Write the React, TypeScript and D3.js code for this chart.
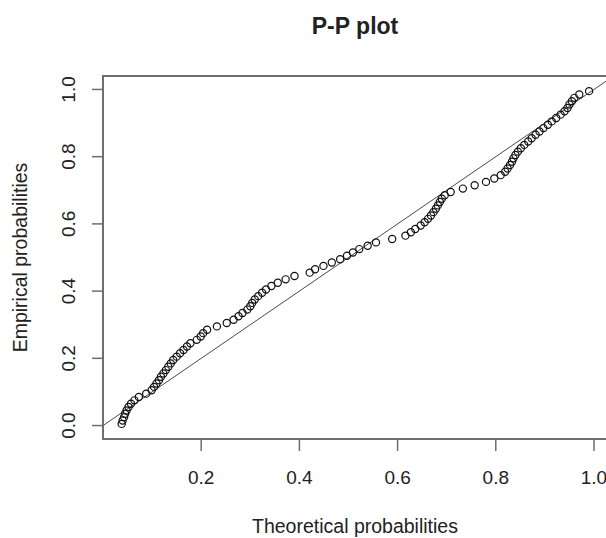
import React from "react";
import * as d3 from "d3";

const theoretical: number[] = [
  0.038, 0.040, 0.043, 0.045, 0.048, 0.052, 0.057, 0.064, 0.073, 0.088,
  0.099, 0.104, 0.109, 0.114, 0.118, 0.123, 0.128, 0.133, 0.138, 0.143,
  0.150, 0.157, 0.164, 0.171, 0.178, 0.191, 0.199, 0.204, 0.212, 0.232,
  0.252, 0.266, 0.276, 0.284, 0.294, 0.300, 0.304, 0.309, 0.316, 0.324,
  0.332, 0.343, 0.356, 0.372, 0.390, 0.421, 0.432, 0.449, 0.466, 0.483,
  0.497, 0.509, 0.522, 0.539, 0.556, 0.589, 0.616, 0.627, 0.636, 0.647,
  0.655, 0.662, 0.668, 0.673, 0.678, 0.682, 0.686, 0.690, 0.696, 0.708,
  0.733, 0.757, 0.780, 0.797, 0.810, 0.819, 0.824, 0.829, 0.833, 0.836,
  0.840, 0.845, 0.851, 0.858, 0.866, 0.873, 0.881, 0.889, 0.897, 0.906,
  0.914, 0.923, 0.932, 0.940, 0.946, 0.950, 0.955, 0.960, 0.970, 0.990,
];

const empirical: number[] = [
  0.005, 0.015, 0.025, 0.035, 0.045, 0.055, 0.065, 0.075, 0.085, 0.095,
  0.105, 0.115, 0.125, 0.135, 0.145, 0.155, 0.165, 0.175, 0.185, 0.195,
  0.205, 0.215, 0.225, 0.235, 0.245, 0.255, 0.265, 0.275, 0.285, 0.295,
  0.305, 0.315, 0.325, 0.335, 0.345, 0.355, 0.365, 0.375, 0.385, 0.395,
  0.405, 0.415, 0.425, 0.435, 0.445, 0.455, 0.465, 0.475, 0.485, 0.495,
  0.505, 0.515, 0.525, 0.535, 0.545, 0.555, 0.565, 0.575, 0.585, 0.595,
  0.605, 0.615, 0.625, 0.635, 0.645, 0.655, 0.665, 0.675, 0.685, 0.695,
  0.705, 0.715, 0.725, 0.735, 0.745, 0.755, 0.765, 0.775, 0.785, 0.795,
  0.805, 0.815, 0.825, 0.835, 0.845, 0.855, 0.865, 0.875, 0.885, 0.895,
  0.905, 0.915, 0.925, 0.935, 0.945, 0.955, 0.965, 0.975, 0.985, 0.995,
];

const xTicks: number[] = [0.2, 0.4, 0.6, 0.8, 1.0];
const yTicks: number[] = [0.0, 0.2, 0.4, 0.6, 0.8, 1.0];

const titleText = "P-P plot";
const xLabel = "Theoretical probabilities";
const yLabel = "Empirical probabilities";

const W = 606;
const H = 538;
const left = 103;
const right = 607;
const top = 76;
const bottom = 439;

export default function App() {
  const x = d3.scaleLinear().domain([0, 1.0265]).range([left, right]);
  const y = d3.scaleLinear().domain([-0.04, 1.04]).range([bottom, top]);
  const font = "'Liberation Sans', Arial, sans-serif";
  const textColor = "#222";
  const axisColor = "#6e6e6e";
  const [d0, d1] = x.domain();
  const diag = d3.line<number>()(
    [
      [x(d0), y(d0)],
      [x(d1), y(d1)],
    ] as any
  );

  return (
    <svg
      width={W}
      height={H}
      style={{ position: "absolute", left: 0, top: 0, background: "#fff" }}
      fontFamily={font}
    >
      <defs>
        <clipPath id="plotclip">
          <rect x={left} y={top} width={right - left} height={bottom - top} />
        </clipPath>
      </defs>
      <rect x={0} y={0} width={W} height={H} fill="#fff" />
      <text
        x={355}
        y={34}
        textAnchor="middle"
        fontWeight="bold"
        fontSize={23}
        fill={textColor}
      >
        {titleText}
      </text>

      <g clipPath="url(#plotclip)">
        <path d={diag || ""} stroke="#4a4a4a" strokeWidth={1} fill="none" />
        {theoretical.map((t, i) => (
          <circle
            key={i}
            cx={x(t)}
            cy={y(empirical[i])}
            r={3.6}
            fill="none"
            stroke="#111"
            strokeWidth={1.2}
          />
        ))}
      </g>

      <rect
        x={left}
        y={top}
        width={right - left}
        height={bottom - top}
        fill="none"
        stroke={axisColor}
        strokeWidth={2}
      />

      {xTicks.map((t) => (
        <g key={"x" + t}>
          <line
            x1={x(t)}
            x2={x(t)}
            y1={bottom}
            y2={bottom + 12}
            stroke={axisColor}
            strokeWidth={1.5}
          />
          <text
            x={x(t)}
            y={484}
            textAnchor="middle"
            fontSize={19}
            fill={textColor}
          >
            {d3.format(".1f")(t)}
          </text>
        </g>
      ))}

      {yTicks.map((t) => (
        <g key={"y" + t}>
          <line
            x1={left - 11}
            x2={left}
            y1={y(t)}
            y2={y(t)}
            stroke={axisColor}
            strokeWidth={1.5}
          />
          <text
            transform={`translate(75,${y(t)}) rotate(-90)`}
            textAnchor="middle"
            fontSize={19}
            fill={textColor}
          >
            {d3.format(".1f")(t)}
          </text>
        </g>
      ))}

      <text
        x={355}
        y={533}
        textAnchor="middle"
        fontSize={19.5}
        fill={textColor}
      >
        {xLabel}
      </text>
      <text
        transform={`translate(27,${(top + bottom) / 2}) rotate(-90)`}
        textAnchor="middle"
        fontSize={19.5}
        fill={textColor}
      >
        {yLabel}
      </text>
    </svg>
  );
}
